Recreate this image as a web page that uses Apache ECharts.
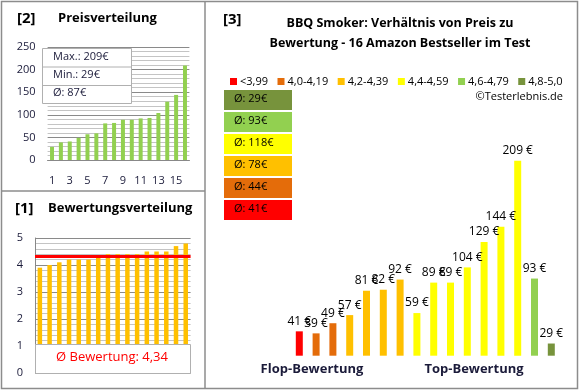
<!DOCTYPE html>
<html><head><meta charset="utf-8">
<script src="https://cdn.jsdelivr.net/npm/echarts@6/dist/echarts.min.js"></script>
<style>html,body{margin:0;padding:0;background:#fff}#c{width:580px;height:390px}</style>
</head><body><div id="c"></div>
<script>
const products = ['1','2','3','4','5','6','7','8','9','10','11','12','13','14','15','16'];
const prices = [41,39,49,57,81,82,92,59,89,89,104,129,144,209,93,29];
const ratings = [3.9,4.0,4.1,4.2,4.2,4.2,4.3,4.4,4.4,4.4,4.4,4.5,4.5,4.5,4.7,4.8];
const groupLabels = ['<3,99','4,0-4,19','4,2-4,39','4,4-4,59','4,6-4,79','4,8-5,0'];
const groupLower = [0,4.0,4.2,4.4,4.6,4.8];
const groupColors = ['#FF0000','#E46C0A','#FFC000','#FFFF00','#92D050','#77933C'];

const FONT = 'Open Sans';
const TXT = '#1b1b3a';

const sortedPrices = prices.slice().sort((a,b)=>a-b);
const groupOf = r => { let g = 0; groupLower.forEach((l,i)=>{ if (r >= l - 1e-9) g = i; }); return g; };
const groupIdx = ratings.map(groupOf);
const mean = a => a.reduce((s,v)=>s+v,0)/a.length;
const avgPrice = Math.round(mean(prices));
const avgRating = mean(ratings);
const groupAvg = groupLabels.map((_,g)=>{
  const v = prices.filter((p,i)=>groupIdx[i]===g);
  return v.length ? Math.round(mean(v)) : null;
});

const graphic = [
  {type:'rect', shape:{x:1.5,y:1.5,width:576,height:387}, style:{fill:'none',stroke:'#8c8c8c',lineWidth:1.5}, z:100},
  {type:'line', shape:{x1:205,y1:1.5,x2:205,y2:388.5}, style:{stroke:'#8c8c8c',lineWidth:1.5}, z:100},
  {type:'line', shape:{x1:1.5,y1:191,x2:205,y2:191}, style:{stroke:'#8c8c8c',lineWidth:1.5}, z:100},
  {type:'text', x:17, y:11, style:{text:'[2]', font:'bold 15px "'+FONT+'"', fill:'#000'}, z:100},
  {type:'text', x:58, y:12, style:{text:'Preisverteilung', font:'bold 13px "'+FONT+'"', fill:'#000'}, z:100},
  {type:'text', x:15, y:201, style:{text:'[1]', font:'bold 15px "'+FONT+'"', fill:'#000'}, z:100},
  {type:'text', x:48, y:202, style:{text:'Bewertungsverteilung', font:'bold 13px "'+FONT+'"', fill:'#000'}, z:100},
  {type:'text', x:223, y:12, style:{text:'[3]', font:'bold 15px "'+FONT+'"', fill:'#000'}, z:100},
  {type:'text', x:400, y:17, style:{text:'BBQ Smoker: Verhältnis von Preis zu', font:'bold 12.5px "'+FONT+'"', fill:'#000', textAlign:'center'}, z:100},
  {type:'text', x:400, y:37, style:{text:'Bewertung - 16 Amazon Bestseller im Test', font:'bold 12.5px "'+FONT+'"', fill:'#000', textAlign:'center'}, z:100},
  {type:'text', x:563, y:91, style:{text:'©Testerlebnis.de', font:'11px "'+FONT+'"', fill:'#000', textAlign:'right'}, z:100},
  {type:'text', x:312, y:363, style:{text:'Flop-Bewertung', font:'bold 13px "'+FONT+'"', fill:TXT, textAlign:'center'}, z:100},
  {type:'text', x:474, y:363, style:{text:'Top-Bewertung', font:'bold 13px "'+FONT+'"', fill:TXT, textAlign:'center'}, z:100},
  // price stats box
  {type:'rect', shape:{x:42.5,y:48.5,width:89,height:55}, style:{fill:'#fff',stroke:'#b0b0b0',lineWidth:1}, z:100},
  {type:'line', shape:{x1:42.5,y1:67,x2:131.5,y2:67}, style:{stroke:'#b0b0b0',lineWidth:1}, z:100},
  {type:'line', shape:{x1:42.5,y1:85.5,x2:131.5,y2:85.5}, style:{stroke:'#b0b0b0',lineWidth:1}, z:100},
  {type:'text', x:53, y:51, style:{text:'Max.: '+Math.max(...prices)+'€', font:'11px "'+FONT+'"', fill:TXT}, z:101},
  {type:'text', x:53, y:69, style:{text:'Min.: '+Math.min(...prices)+'€', font:'11px "'+FONT+'"', fill:TXT}, z:101},
  {type:'text', x:53, y:87, style:{text:'Ø: '+avgPrice+'€', font:'11px "'+FONT+'"', fill:TXT}, z:101},
  // rating box
  {type:'rect', shape:{x:35.5,y:344.5,width:155,height:29}, style:{fill:'#fff',stroke:'#b0b0b0',lineWidth:1}, z:100},
  {type:'text', x:112, y:351, style:{text:'Ø Bewertung: '+avgRating.toFixed(2).replace('.',','), font:'13px "'+FONT+'"', fill:'#FF0000', textAlign:'center'}, z:101}
];
// group average boxes (top to bottom: best to worst)
for (let k = 0; k < groupLabels.length; k++) {
  const g = groupLabels.length - 1 - k;
  const y = 90 + k*22;
  graphic.push({type:'rect', shape:{x:224,y:y,width:68,height:20}, style:{fill:groupColors[g]}, z:100});
  graphic.push({type:'text', x:234, y:y+3, style:{text:'Ø: '+groupAvg[g]+'€', font:'11px "'+FONT+'"', fill:'#000'}, z:101});
}

const groupSeries = groupLabels.map((name,g)=>({
  type:'bar', name:name, xAxisIndex:2, yAxisIndex:2,
  data: prices.map((p,i)=> groupIdx[i]===g ? p : '-'),
  barWidth:7, barGap:'-100%',
  itemStyle:{color:groupColors[g]},
  label:{show:true, position:'top', distance:4, formatter:'{c} €', fontFamily:FONT, fontSize:12, color:'#000'}
}));

const chart = echarts.init(document.getElementById('c'), null, {renderer:'canvas'});
chart.setOption({
  animation:false,
  textStyle:{fontFamily:FONT},
  graphic: graphic,
  legend:{
    data:groupLabels, left:225, top:71, icon:'rect', itemWidth:7, itemHeight:7, itemGap:9.5,
    textStyle:{fontFamily:FONT, fontSize:11, color:'#000', padding:[0,0,0,-2]}
  },
  grid:[
    {left:47.6, right:390.6, top:47, bottom:230},
    {left:35, right:389.4, top:238, bottom:17},
    {left:290.9, right:20.3, top:119.2, bottom:34.3}
  ],
  xAxis:[
    {type:'category', gridIndex:0, data:products, axisTick:{show:false},
     axisLine:{lineStyle:{color:'#888'}},
     axisLabel:{interval:1, margin:15, fontSize:11, color:TXT, fontFamily:FONT}},
    {type:'category', gridIndex:1, data:products, axisTick:{show:false}, axisLabel:{show:false},
     axisLine:{show:false}},
    {type:'category', gridIndex:2, data:products, show:false}
  ],
  yAxis:[
    {type:'value', gridIndex:0, min:0, max:250, interval:50,
     axisLine:{show:false}, axisTick:{show:false},
     axisLabel:{margin:12, fontSize:11, color:TXT, fontFamily:FONT},
     splitLine:{lineStyle:{color:'#8a8a8a'}},
     minorTick:{show:false, splitNumber:5},
     minorSplitLine:{show:true, lineStyle:{color:'#c4c4c4'}}},
    {type:'value', gridIndex:1, min:0, max:5, interval:1,
     axisLine:{show:true, lineStyle:{color:'#888'}}, axisTick:{show:false},
     axisLabel:{margin:12, fontSize:11, color:TXT, fontFamily:FONT},
     splitLine:{lineStyle:{color:'#8a8a8a'}},
     minorTick:{show:false, splitNumber:5},
     minorSplitLine:{show:true, lineStyle:{color:'#c4c4c4'}}},
    {type:'value', gridIndex:2, min:17, max:250, show:false, splitLine:{show:false}}
  ],
  series:[
    {type:'bar', xAxisIndex:0, yAxisIndex:0, data:sortedPrices, barWidth:4, itemStyle:{color:'#92D050'}},
    {type:'bar', xAxisIndex:1, yAxisIndex:1, data:ratings, barWidth:4.5, itemStyle:{color:'#FFC000'},
     markLine:{silent:true, symbol:'none', label:{show:false},
       lineStyle:{color:'#FF0000', width:3, type:'solid'},
       data:[{yAxis:avgRating}]}}
  ].concat(groupSeries)
});
</script></body></html>
